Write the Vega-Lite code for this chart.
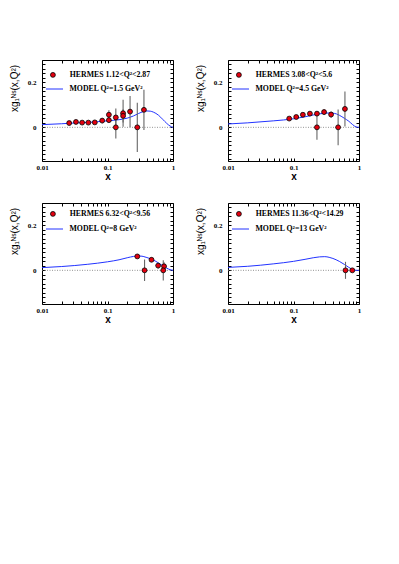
{
  "$schema": "https://vega.github.io/schema/vega-lite/v6.json",
  "background": "white",
  "padding": {"left": 8, "top": 59, "right": 2, "bottom": 2},
  "datasets": {
    "pts": [
      {"p": 1, "s": "HERMES 1.12<Q²<2.87", "x": 0.026, "y": 0.019, "e": 0.004},
      {"p": 1, "s": "HERMES 1.12<Q²<2.87", "x": 0.033, "y": 0.024, "e": 0.004},
      {"p": 1, "s": "HERMES 1.12<Q²<2.87", "x": 0.041, "y": 0.021, "e": 0.004},
      {"p": 1, "s": "HERMES 1.12<Q²<2.87", "x": 0.051, "y": 0.021, "e": 0.004},
      {"p": 1, "s": "HERMES 1.12<Q²<2.87", "x": 0.064, "y": 0.022, "e": 0.006},
      {"p": 1, "s": "HERMES 1.12<Q²<2.87", "x": 0.083, "y": 0.030, "e": 0.012},
      {"p": 1, "s": "HERMES 1.12<Q²<2.87", "x": 0.105, "y": 0.056, "e": 0.02},
      {"p": 1, "s": "HERMES 1.12<Q²<2.87", "x": 0.105, "y": 0.032, "e": 0.012},
      {"p": 1, "s": "HERMES 1.12<Q²<2.87", "x": 0.134, "y": 0.044, "e": 0.04},
      {"p": 1, "s": "HERMES 1.12<Q²<2.87", "x": 0.134, "y": 0.0, "e": 0.05},
      {"p": 1, "s": "HERMES 1.12<Q²<2.87", "x": 0.173, "y": 0.063, "e": 0.06},
      {"p": 1, "s": "HERMES 1.12<Q²<2.87", "x": 0.173, "y": 0.051, "e": 0.03},
      {"p": 1, "s": "HERMES 1.12<Q²<2.87", "x": 0.221, "y": 0.07, "e": 0.07},
      {"p": 1, "s": "HERMES 1.12<Q²<2.87", "x": 0.285, "y": 0.0, "e": 0.11},
      {"p": 1, "s": "HERMES 1.12<Q²<2.87", "x": 0.36, "y": 0.078, "e": 0.09},
      {"p": 2, "s": "HERMES 3.08<Q²<5.6", "x": 0.086, "y": 0.039, "e": 0.006},
      {"p": 2, "s": "HERMES 3.08<Q²<5.6", "x": 0.11, "y": 0.046, "e": 0.006},
      {"p": 2, "s": "HERMES 3.08<Q²<5.6", "x": 0.139, "y": 0.056, "e": 0.007},
      {"p": 2, "s": "HERMES 3.08<Q²<5.6", "x": 0.178, "y": 0.061, "e": 0.008},
      {"p": 2, "s": "HERMES 3.08<Q²<5.6", "x": 0.228, "y": 0.061, "e": 0.01},
      {"p": 2, "s": "HERMES 3.08<Q²<5.6", "x": 0.228, "y": 0.0, "e": 0.055},
      {"p": 2, "s": "HERMES 3.08<Q²<5.6", "x": 0.293, "y": 0.068, "e": 0.013},
      {"p": 2, "s": "HERMES 3.08<Q²<5.6", "x": 0.375, "y": 0.057, "e": 0.014},
      {"p": 2, "s": "HERMES 3.08<Q²<5.6", "x": 0.48, "y": 0.0, "e": 0.08},
      {"p": 2, "s": "HERMES 3.08<Q²<5.6", "x": 0.61, "y": 0.082, "e": 0.078},
      {"p": 3, "s": "HERMES 6.32<Q²<9.56", "x": 0.285, "y": 0.062, "e": 0.008},
      {"p": 3, "s": "HERMES 6.32<Q²<9.56", "x": 0.368, "y": 0.0, "e": 0.048},
      {"p": 3, "s": "HERMES 6.32<Q²<9.56", "x": 0.47, "y": 0.047, "e": 0.01},
      {"p": 3, "s": "HERMES 6.32<Q²<9.56", "x": 0.593, "y": 0.021, "e": 0.013},
      {"p": 3, "s": "HERMES 6.32<Q²<9.56", "x": 0.73, "y": 0.018, "e": 0.018},
      {"p": 3, "s": "HERMES 6.32<Q²<9.56", "x": 0.71, "y": 0.0, "e": 0.045},
      {"p": 4, "s": "HERMES 11.36<Q²<14.29", "x": 0.622, "y": 0.0, "e": 0.038},
      {"p": 4, "s": "HERMES 11.36<Q²<14.29", "x": 0.79, "y": 0.0, "e": 0.005}
    ],
    "model": [
      {"p": 1, "s": "MODEL Q²=1.5 GeV²", "x": 0.01, "y": 0.012},
      {"p": 1, "s": "MODEL Q²=1.5 GeV²", "x": 0.02, "y": 0.016},
      {"p": 1, "s": "MODEL Q²=1.5 GeV²", "x": 0.03, "y": 0.019},
      {"p": 1, "s": "MODEL Q²=1.5 GeV²", "x": 0.05, "y": 0.022},
      {"p": 1, "s": "MODEL Q²=1.5 GeV²", "x": 0.07, "y": 0.025},
      {"p": 1, "s": "MODEL Q²=1.5 GeV²", "x": 0.1, "y": 0.029},
      {"p": 1, "s": "MODEL Q²=1.5 GeV²", "x": 0.15, "y": 0.034},
      {"p": 1, "s": "MODEL Q²=1.5 GeV²", "x": 0.2, "y": 0.041},
      {"p": 1, "s": "MODEL Q²=1.5 GeV²", "x": 0.25, "y": 0.051},
      {"p": 1, "s": "MODEL Q²=1.5 GeV²", "x": 0.3, "y": 0.062},
      {"p": 1, "s": "MODEL Q²=1.5 GeV²", "x": 0.35, "y": 0.07},
      {"p": 1, "s": "MODEL Q²=1.5 GeV²", "x": 0.4, "y": 0.073},
      {"p": 1, "s": "MODEL Q²=1.5 GeV²", "x": 0.45, "y": 0.072},
      {"p": 1, "s": "MODEL Q²=1.5 GeV²", "x": 0.5, "y": 0.068},
      {"p": 1, "s": "MODEL Q²=1.5 GeV²", "x": 0.6, "y": 0.054},
      {"p": 1, "s": "MODEL Q²=1.5 GeV²", "x": 0.7, "y": 0.035},
      {"p": 1, "s": "MODEL Q²=1.5 GeV²", "x": 0.8, "y": 0.018},
      {"p": 1, "s": "MODEL Q²=1.5 GeV²", "x": 0.9, "y": 0.006},
      {"p": 1, "s": "MODEL Q²=1.5 GeV²", "x": 1.0, "y": 0.0},
      {"p": 2, "s": "MODEL Q²=4.5 GeV²", "x": 0.01, "y": 0.015},
      {"p": 2, "s": "MODEL Q²=4.5 GeV²", "x": 0.02, "y": 0.02},
      {"p": 2, "s": "MODEL Q²=4.5 GeV²", "x": 0.05, "y": 0.029},
      {"p": 2, "s": "MODEL Q²=4.5 GeV²", "x": 0.1, "y": 0.038},
      {"p": 2, "s": "MODEL Q²=4.5 GeV²", "x": 0.15, "y": 0.047},
      {"p": 2, "s": "MODEL Q²=4.5 GeV²", "x": 0.2, "y": 0.055},
      {"p": 2, "s": "MODEL Q²=4.5 GeV²", "x": 0.25, "y": 0.06},
      {"p": 2, "s": "MODEL Q²=4.5 GeV²", "x": 0.3, "y": 0.063},
      {"p": 2, "s": "MODEL Q²=4.5 GeV²", "x": 0.35, "y": 0.064},
      {"p": 2, "s": "MODEL Q²=4.5 GeV²", "x": 0.4, "y": 0.063},
      {"p": 2, "s": "MODEL Q²=4.5 GeV²", "x": 0.45, "y": 0.06},
      {"p": 2, "s": "MODEL Q²=4.5 GeV²", "x": 0.5, "y": 0.054},
      {"p": 2, "s": "MODEL Q²=4.5 GeV²", "x": 0.6, "y": 0.04},
      {"p": 2, "s": "MODEL Q²=4.5 GeV²", "x": 0.7, "y": 0.027},
      {"p": 2, "s": "MODEL Q²=4.5 GeV²", "x": 0.8, "y": 0.012},
      {"p": 2, "s": "MODEL Q²=4.5 GeV²", "x": 0.9, "y": 0.002},
      {"p": 2, "s": "MODEL Q²=4.5 GeV²", "x": 1.0, "y": 0.0},
      {"p": 3, "s": "MODEL Q²=8 GeV²", "x": 0.01, "y": 0.012},
      {"p": 3, "s": "MODEL Q²=8 GeV²", "x": 0.02, "y": 0.017},
      {"p": 3, "s": "MODEL Q²=8 GeV²", "x": 0.05, "y": 0.027},
      {"p": 3, "s": "MODEL Q²=8 GeV²", "x": 0.1, "y": 0.038},
      {"p": 3, "s": "MODEL Q²=8 GeV²", "x": 0.15, "y": 0.047},
      {"p": 3, "s": "MODEL Q²=8 GeV²", "x": 0.2, "y": 0.056},
      {"p": 3, "s": "MODEL Q²=8 GeV²", "x": 0.25, "y": 0.062},
      {"p": 3, "s": "MODEL Q²=8 GeV²", "x": 0.3, "y": 0.064},
      {"p": 3, "s": "MODEL Q²=8 GeV²", "x": 0.35, "y": 0.062},
      {"p": 3, "s": "MODEL Q²=8 GeV²", "x": 0.4, "y": 0.057},
      {"p": 3, "s": "MODEL Q²=8 GeV²", "x": 0.5, "y": 0.046},
      {"p": 3, "s": "MODEL Q²=8 GeV²", "x": 0.6, "y": 0.033},
      {"p": 3, "s": "MODEL Q²=8 GeV²", "x": 0.7, "y": 0.02},
      {"p": 3, "s": "MODEL Q²=8 GeV²", "x": 0.8, "y": 0.01},
      {"p": 3, "s": "MODEL Q²=8 GeV²", "x": 0.9, "y": 0.003},
      {"p": 3, "s": "MODEL Q²=8 GeV²", "x": 1.0, "y": 0.0},
      {"p": 4, "s": "MODEL Q²=13 GeV²", "x": 0.01, "y": 0.013},
      {"p": 4, "s": "MODEL Q²=13 GeV²", "x": 0.02, "y": 0.018},
      {"p": 4, "s": "MODEL Q²=13 GeV²", "x": 0.05, "y": 0.029},
      {"p": 4, "s": "MODEL Q²=13 GeV²", "x": 0.1, "y": 0.04},
      {"p": 4, "s": "MODEL Q²=13 GeV²", "x": 0.15, "y": 0.049},
      {"p": 4, "s": "MODEL Q²=13 GeV²", "x": 0.2, "y": 0.056},
      {"p": 4, "s": "MODEL Q²=13 GeV²", "x": 0.25, "y": 0.06},
      {"p": 4, "s": "MODEL Q²=13 GeV²", "x": 0.3, "y": 0.061},
      {"p": 4, "s": "MODEL Q²=13 GeV²", "x": 0.35, "y": 0.058},
      {"p": 4, "s": "MODEL Q²=13 GeV²", "x": 0.4, "y": 0.053},
      {"p": 4, "s": "MODEL Q²=13 GeV²", "x": 0.5, "y": 0.04},
      {"p": 4, "s": "MODEL Q²=13 GeV²", "x": 0.6, "y": 0.026},
      {"p": 4, "s": "MODEL Q²=13 GeV²", "x": 0.7, "y": 0.013},
      {"p": 4, "s": "MODEL Q²=13 GeV²", "x": 0.8, "y": 0.004},
      {"p": 4, "s": "MODEL Q²=13 GeV²", "x": 0.9, "y": 0.0},
      {"p": 4, "s": "MODEL Q²=13 GeV²", "x": 1.0, "y": 0.0}
    ],
    "zero": [{"v": 0}]
  },
  "columns": 2,
  "spacing": {"row": 42, "column": 55},
  "bounds": "flush",
  "resolve": {"scale": {"fill": "independent", "stroke": "independent"}, "legend": {"fill": "independent", "stroke": "independent"}},
  "concat": [
    {
      "width": 131, "height": 101,
      "layer": [
        {"data": {"name": "zero"}, "mark": {"type": "rule", "strokeDash": [1, 1.5], "color": "#777", "strokeWidth": 0.8},
         "encoding": {
           "x": {"datum": 0.01, "type": "quantitative", "scale": {"type": "log", "domain": [0.01, 1], "nice": false}, "axis": {"orient": "bottom", "values": [0.01,0.02,0.03,0.04,0.05,0.06,0.07,0.08,0.09,0.1,0.2,0.3,0.4,0.5,0.6,0.7,0.8,0.9,1], "labelExpr": "datum.value == 0.01 ? '0.01' : (datum.value == 0.1 ? '0.1' : (datum.value == 1 ? '1' : ''))", "title": "x", "tickSize": -3, "labelPadding": 5, "labelOverlap": false, "labelFlush": false, "titleFont": "Liberation Sans", "titleFontWeight": "bold", "titleFontSize": 10, "titlePadding": 1}},
           "x2": {"datum": 1},
           "y": {"field": "v", "type": "quantitative", "scale": {"domain": [-0.15, 0.3], "nice": false, "zero": false}, "axis": {"orient": "left", "values": [-0.14,-0.12,-0.1,-0.08,-0.06,-0.04,-0.02,0,0.02,0.04,0.06,0.08,0.1,0.12,0.14,0.16,0.18,0.2,0.22,0.24,0.26,0.28], "labelExpr": "datum.value == 0 ? '0' : (abs(datum.value - 0.2) < 0.001 ? '0.2' : '')", "title": "xg₁ᴺˢ(x,Q²)", "tickSize": -3, "labelPadding": 9, "labelOverlap": false, "labelFlush": false, "titleX": -28, "titleY": 28, "titleBaseline": "middle", "titleAlign": "center", "titleFont": "Liberation Sans", "titleFontWeight": "normal", "titleFontSize": 10}}
         }},
        {"data": {"name": "model"}, "transform": [{"filter": "datum.p == 1"}], "mark": {"type": "line", "strokeWidth": 1, "interpolate": "monotone"},
         "encoding": {
           "x": {"field": "x", "type": "quantitative", "scale": {"type": "log", "domain": [0.01, 1], "nice": false}, "axis": {"orient": "top", "values": [0.01,0.02,0.03,0.04,0.05,0.06,0.07,0.08,0.09,0.1,0.2,0.3,0.4,0.5,0.6,0.7,0.8,0.9,1], "labels": false, "title": null, "tickSize": -3}},
           "y": {"field": "y", "type": "quantitative", "scale": {"domain": [-0.15, 0.3], "nice": false, "zero": false}, "axis": {"orient": "right", "values": [-0.14,-0.12,-0.1,-0.08,-0.06,-0.04,-0.02,0,0.02,0.04,0.06,0.08,0.1,0.12,0.14,0.16,0.18,0.2,0.22,0.24,0.26,0.28], "labels": false, "title": null, "tickSize": -3}},
           "stroke": {"field": "s", "type": "nominal", "scale": {"range": ["#2233ff"]}, "legend": {"orient": "none", "legendX": 3.5, "legendY": 20, "title": null, "padding": 0, "symbolType": "stroke", "symbolSize": 289, "symbolStrokeWidth": 1, "labelOffset": 6}}
         }},
        {"data": {"name": "pts"}, "transform": [{"filter": "datum.p == 1"}], "mark": {"type": "errorbar", "ticks": false, "color": "#666", "thickness": 1.1},
         "encoding": {
           "x": {"field": "x", "type": "quantitative", "scale": {"type": "log", "domain": [0.01, 1], "nice": false}, "axis": null},
           "y": {"field": "y", "type": "quantitative", "scale": {"domain": [-0.15, 0.3], "nice": false, "zero": false}, "axis": null},
           "yError": {"field": "e"}
         }},
        {"data": {"name": "pts"}, "transform": [{"filter": "datum.p == 1"}], "mark": {"type": "circle", "size": 24, "stroke": "black", "strokeWidth": 0.8, "opacity": 1},
         "encoding": {
           "x": {"field": "x", "type": "quantitative", "scale": {"type": "log", "domain": [0.01, 1], "nice": false}, "axis": null},
           "y": {"field": "y", "type": "quantitative", "scale": {"domain": [-0.15, 0.3], "nice": false, "zero": false}, "axis": null},
           "fill": {"field": "s", "type": "nominal", "scale": {"range": ["#e3000f"]}, "legend": {"orient": "none", "legendX": 7, "legendY": 11, "title": null, "padding": 0, "symbolType": "circle", "symbolSize": 24, "symbolStrokeColor": "black", "symbolStrokeWidth": 0.8, "labelOffset": 13}}
         }}
      ],
      "resolve": {"axis": {"x": "independent", "y": "independent"}}
    },
    {
      "width": 131, "height": 101,
      "layer": [
        {"data": {"name": "zero"}, "mark": {"type": "rule", "strokeDash": [1, 1.5], "color": "#777", "strokeWidth": 0.8},
         "encoding": {
           "x": {"datum": 0.01, "type": "quantitative", "scale": {"type": "log", "domain": [0.01, 1], "nice": false}, "axis": {"orient": "bottom", "values": [0.01,0.02,0.03,0.04,0.05,0.06,0.07,0.08,0.09,0.1,0.2,0.3,0.4,0.5,0.6,0.7,0.8,0.9,1], "labelExpr": "datum.value == 0.01 ? '0.01' : (datum.value == 0.1 ? '0.1' : (datum.value == 1 ? '1' : ''))", "title": "x", "tickSize": -3, "labelPadding": 5, "labelOverlap": false, "labelFlush": false, "titleFont": "Liberation Sans", "titleFontWeight": "bold", "titleFontSize": 10, "titlePadding": 1}},
           "x2": {"datum": 1},
           "y": {"field": "v", "type": "quantitative", "scale": {"domain": [-0.15, 0.3], "nice": false, "zero": false}, "axis": {"orient": "left", "values": [-0.14,-0.12,-0.1,-0.08,-0.06,-0.04,-0.02,0,0.02,0.04,0.06,0.08,0.1,0.12,0.14,0.16,0.18,0.2,0.22,0.24,0.26,0.28], "labelExpr": "datum.value == 0 ? '0' : (abs(datum.value - 0.2) < 0.001 ? '0.2' : '')", "title": "xg₁ᴺˢ(x,Q²)", "tickSize": -3, "labelPadding": 9, "labelOverlap": false, "labelFlush": false, "titleX": -28, "titleY": 28, "titleBaseline": "middle", "titleAlign": "center", "titleFont": "Liberation Sans", "titleFontWeight": "normal", "titleFontSize": 10}}
         }},
        {"data": {"name": "model"}, "transform": [{"filter": "datum.p == 2"}], "mark": {"type": "line", "strokeWidth": 1, "interpolate": "monotone"},
         "encoding": {
           "x": {"field": "x", "type": "quantitative", "scale": {"type": "log", "domain": [0.01, 1], "nice": false}, "axis": {"orient": "top", "values": [0.01,0.02,0.03,0.04,0.05,0.06,0.07,0.08,0.09,0.1,0.2,0.3,0.4,0.5,0.6,0.7,0.8,0.9,1], "labels": false, "title": null, "tickSize": -3}},
           "y": {"field": "y", "type": "quantitative", "scale": {"domain": [-0.15, 0.3], "nice": false, "zero": false}, "axis": {"orient": "right", "values": [-0.14,-0.12,-0.1,-0.08,-0.06,-0.04,-0.02,0,0.02,0.04,0.06,0.08,0.1,0.12,0.14,0.16,0.18,0.2,0.22,0.24,0.26,0.28], "labels": false, "title": null, "tickSize": -3}},
           "stroke": {"field": "s", "type": "nominal", "scale": {"range": ["#2233ff"]}, "legend": {"orient": "none", "legendX": 3.5, "legendY": 20, "title": null, "padding": 0, "symbolType": "stroke", "symbolSize": 289, "symbolStrokeWidth": 1, "labelOffset": 6}}
         }},
        {"data": {"name": "pts"}, "transform": [{"filter": "datum.p == 2"}], "mark": {"type": "errorbar", "ticks": false, "color": "#666", "thickness": 1.1},
         "encoding": {
           "x": {"field": "x", "type": "quantitative", "scale": {"type": "log", "domain": [0.01, 1], "nice": false}, "axis": null},
           "y": {"field": "y", "type": "quantitative", "scale": {"domain": [-0.15, 0.3], "nice": false, "zero": false}, "axis": null},
           "yError": {"field": "e"}
         }},
        {"data": {"name": "pts"}, "transform": [{"filter": "datum.p == 2"}], "mark": {"type": "circle", "size": 24, "stroke": "black", "strokeWidth": 0.8, "opacity": 1},
         "encoding": {
           "x": {"field": "x", "type": "quantitative", "scale": {"type": "log", "domain": [0.01, 1], "nice": false}, "axis": null},
           "y": {"field": "y", "type": "quantitative", "scale": {"domain": [-0.15, 0.3], "nice": false, "zero": false}, "axis": null},
           "fill": {"field": "s", "type": "nominal", "scale": {"range": ["#e3000f"]}, "legend": {"orient": "none", "legendX": 7, "legendY": 11, "title": null, "padding": 0, "symbolType": "circle", "symbolSize": 24, "symbolStrokeColor": "black", "symbolStrokeWidth": 0.8, "labelOffset": 13}}
         }}
      ],
      "resolve": {"axis": {"x": "independent", "y": "independent"}}
    },
    {
      "width": 131, "height": 101,
      "layer": [
        {"data": {"name": "zero"}, "mark": {"type": "rule", "strokeDash": [1, 1.5], "color": "#777", "strokeWidth": 0.8},
         "encoding": {
           "x": {"datum": 0.01, "type": "quantitative", "scale": {"type": "log", "domain": [0.01, 1], "nice": false}, "axis": {"orient": "bottom", "values": [0.01,0.02,0.03,0.04,0.05,0.06,0.07,0.08,0.09,0.1,0.2,0.3,0.4,0.5,0.6,0.7,0.8,0.9,1], "labelExpr": "datum.value == 0.01 ? '0.01' : (datum.value == 0.1 ? '0.1' : (datum.value == 1 ? '1' : ''))", "title": "x", "tickSize": -3, "labelPadding": 5, "labelOverlap": false, "labelFlush": false, "titleFont": "Liberation Sans", "titleFontWeight": "bold", "titleFontSize": 10, "titlePadding": 1}},
           "x2": {"datum": 1},
           "y": {"field": "v", "type": "quantitative", "scale": {"domain": [-0.15, 0.3], "nice": false, "zero": false}, "axis": {"orient": "left", "values": [-0.14,-0.12,-0.1,-0.08,-0.06,-0.04,-0.02,0,0.02,0.04,0.06,0.08,0.1,0.12,0.14,0.16,0.18,0.2,0.22,0.24,0.26,0.28], "labelExpr": "datum.value == 0 ? '0' : (abs(datum.value - 0.2) < 0.001 ? '0.2' : '')", "title": "xg₁ᴺˢ(x,Q²)", "tickSize": -3, "labelPadding": 9, "labelOverlap": false, "labelFlush": false, "titleX": -28, "titleY": 28, "titleBaseline": "middle", "titleAlign": "center", "titleFont": "Liberation Sans", "titleFontWeight": "normal", "titleFontSize": 10}}
         }},
        {"data": {"name": "model"}, "transform": [{"filter": "datum.p == 3"}], "mark": {"type": "line", "strokeWidth": 1, "interpolate": "monotone"},
         "encoding": {
           "x": {"field": "x", "type": "quantitative", "scale": {"type": "log", "domain": [0.01, 1], "nice": false}, "axis": {"orient": "top", "values": [0.01,0.02,0.03,0.04,0.05,0.06,0.07,0.08,0.09,0.1,0.2,0.3,0.4,0.5,0.6,0.7,0.8,0.9,1], "labels": false, "title": null, "tickSize": -3}},
           "y": {"field": "y", "type": "quantitative", "scale": {"domain": [-0.15, 0.3], "nice": false, "zero": false}, "axis": {"orient": "right", "values": [-0.14,-0.12,-0.1,-0.08,-0.06,-0.04,-0.02,0,0.02,0.04,0.06,0.08,0.1,0.12,0.14,0.16,0.18,0.2,0.22,0.24,0.26,0.28], "labels": false, "title": null, "tickSize": -3}},
           "stroke": {"field": "s", "type": "nominal", "scale": {"range": ["#2233ff"]}, "legend": {"orient": "none", "legendX": 3.5, "legendY": 17, "title": null, "padding": 0, "symbolType": "stroke", "symbolSize": 289, "symbolStrokeWidth": 1, "labelOffset": 6}}
         }},
        {"data": {"name": "pts"}, "transform": [{"filter": "datum.p == 3"}], "mark": {"type": "errorbar", "ticks": false, "color": "#666", "thickness": 1.1},
         "encoding": {
           "x": {"field": "x", "type": "quantitative", "scale": {"type": "log", "domain": [0.01, 1], "nice": false}, "axis": null},
           "y": {"field": "y", "type": "quantitative", "scale": {"domain": [-0.15, 0.3], "nice": false, "zero": false}, "axis": null},
           "yError": {"field": "e"}
         }},
        {"data": {"name": "pts"}, "transform": [{"filter": "datum.p == 3"}], "mark": {"type": "circle", "size": 24, "stroke": "black", "strokeWidth": 0.8, "opacity": 1},
         "encoding": {
           "x": {"field": "x", "type": "quantitative", "scale": {"type": "log", "domain": [0.01, 1], "nice": false}, "axis": null},
           "y": {"field": "y", "type": "quantitative", "scale": {"domain": [-0.15, 0.3], "nice": false, "zero": false}, "axis": null},
           "fill": {"field": "s", "type": "nominal", "scale": {"range": ["#e3000f"]}, "legend": {"orient": "none", "legendX": 7, "legendY": 7, "title": null, "padding": 0, "symbolType": "circle", "symbolSize": 24, "symbolStrokeColor": "black", "symbolStrokeWidth": 0.8, "labelOffset": 13}}
         }}
      ],
      "resolve": {"axis": {"x": "independent", "y": "independent"}}
    },
    {
      "width": 131, "height": 101,
      "layer": [
        {"data": {"name": "zero"}, "mark": {"type": "rule", "strokeDash": [1, 1.5], "color": "#777", "strokeWidth": 0.8},
         "encoding": {
           "x": {"datum": 0.01, "type": "quantitative", "scale": {"type": "log", "domain": [0.01, 1], "nice": false}, "axis": {"orient": "bottom", "values": [0.01,0.02,0.03,0.04,0.05,0.06,0.07,0.08,0.09,0.1,0.2,0.3,0.4,0.5,0.6,0.7,0.8,0.9,1], "labelExpr": "datum.value == 0.01 ? '0.01' : (datum.value == 0.1 ? '0.1' : (datum.value == 1 ? '1' : ''))", "title": "x", "tickSize": -3, "labelPadding": 5, "labelOverlap": false, "labelFlush": false, "titleFont": "Liberation Sans", "titleFontWeight": "bold", "titleFontSize": 10, "titlePadding": 1}},
           "x2": {"datum": 1},
           "y": {"field": "v", "type": "quantitative", "scale": {"domain": [-0.15, 0.3], "nice": false, "zero": false}, "axis": {"orient": "left", "values": [-0.14,-0.12,-0.1,-0.08,-0.06,-0.04,-0.02,0,0.02,0.04,0.06,0.08,0.1,0.12,0.14,0.16,0.18,0.2,0.22,0.24,0.26,0.28], "labelExpr": "datum.value == 0 ? '0' : (abs(datum.value - 0.2) < 0.001 ? '0.2' : '')", "title": "xg₁ᴺˢ(x,Q²)", "tickSize": -3, "labelPadding": 9, "labelOverlap": false, "labelFlush": false, "titleX": -28, "titleY": 28, "titleBaseline": "middle", "titleAlign": "center", "titleFont": "Liberation Sans", "titleFontWeight": "normal", "titleFontSize": 10}}
         }},
        {"data": {"name": "model"}, "transform": [{"filter": "datum.p == 4"}], "mark": {"type": "line", "strokeWidth": 1, "interpolate": "monotone"},
         "encoding": {
           "x": {"field": "x", "type": "quantitative", "scale": {"type": "log", "domain": [0.01, 1], "nice": false}, "axis": {"orient": "top", "values": [0.01,0.02,0.03,0.04,0.05,0.06,0.07,0.08,0.09,0.1,0.2,0.3,0.4,0.5,0.6,0.7,0.8,0.9,1], "labels": false, "title": null, "tickSize": -3}},
           "y": {"field": "y", "type": "quantitative", "scale": {"domain": [-0.15, 0.3], "nice": false, "zero": false}, "axis": {"orient": "right", "values": [-0.14,-0.12,-0.1,-0.08,-0.06,-0.04,-0.02,0,0.02,0.04,0.06,0.08,0.1,0.12,0.14,0.16,0.18,0.2,0.22,0.24,0.26,0.28], "labels": false, "title": null, "tickSize": -3}},
           "stroke": {"field": "s", "type": "nominal", "scale": {"range": ["#2233ff"]}, "legend": {"orient": "none", "legendX": 3.5, "legendY": 17, "title": null, "padding": 0, "symbolType": "stroke", "symbolSize": 289, "symbolStrokeWidth": 1, "labelOffset": 6}}
         }},
        {"data": {"name": "pts"}, "transform": [{"filter": "datum.p == 4"}], "mark": {"type": "errorbar", "ticks": false, "color": "#666", "thickness": 1.1},
         "encoding": {
           "x": {"field": "x", "type": "quantitative", "scale": {"type": "log", "domain": [0.01, 1], "nice": false}, "axis": null},
           "y": {"field": "y", "type": "quantitative", "scale": {"domain": [-0.15, 0.3], "nice": false, "zero": false}, "axis": null},
           "yError": {"field": "e"}
         }},
        {"data": {"name": "pts"}, "transform": [{"filter": "datum.p == 4"}], "mark": {"type": "circle", "size": 24, "stroke": "black", "strokeWidth": 0.8, "opacity": 1},
         "encoding": {
           "x": {"field": "x", "type": "quantitative", "scale": {"type": "log", "domain": [0.01, 1], "nice": false}, "axis": null},
           "y": {"field": "y", "type": "quantitative", "scale": {"domain": [-0.15, 0.3], "nice": false, "zero": false}, "axis": null},
           "fill": {"field": "s", "type": "nominal", "scale": {"range": ["#e3000f"]}, "legend": {"orient": "none", "legendX": 7, "legendY": 7, "title": null, "padding": 0, "symbolType": "circle", "symbolSize": 24, "symbolStrokeColor": "black", "symbolStrokeWidth": 0.8, "labelOffset": 13}}
         }}
      ],
      "resolve": {"axis": {"x": "independent", "y": "independent"}}
    }
  ],
  "config": {
    "view": {"stroke": "black", "strokeWidth": 1},
    "axis": {"labelFont": "Liberation Serif", "labelFontWeight": "bold", "labelFontSize": 7, "labelColor": "black", "domain": false, "grid": false, "tickColor": "black", "tickWidth": 1, "titleColor": "black"},
    "legend": {"labelFont": "Liberation Serif", "labelFontWeight": "bold", "labelFontSize": 7.8, "labelColor": "black", "labelLimit": 200}
  }
}
